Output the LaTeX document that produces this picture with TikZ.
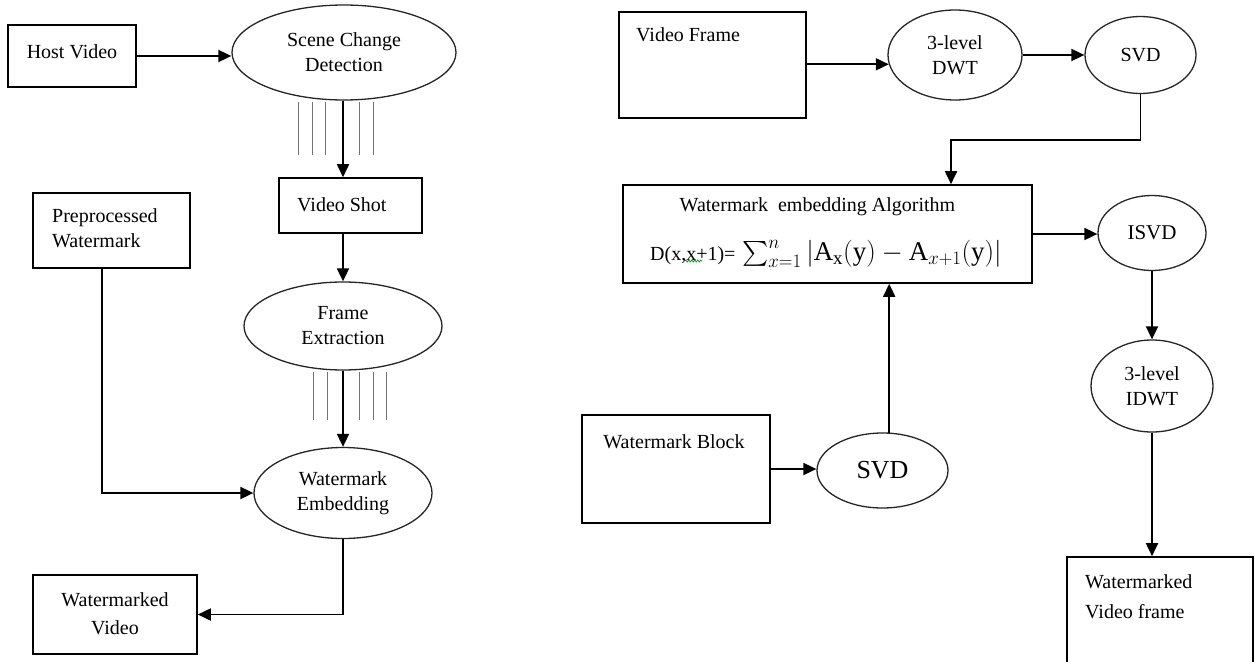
\documentclass[tikz,border=0pt]{standalone}
\usepackage{fix-cm}
\usepackage{amsmath}
\usepackage{fontspec}
\setmainfont{Liberation Serif}
\usetikzlibrary{arrows.meta,shapes.geometric,decorations.pathmorphing,calc}
\begin{document}
\begin{tikzpicture}[x=1pt,y=-1pt,
  box/.style={draw,line width=1.6pt,rectangle,inner sep=0pt},
  ell/.style={draw=black!85,line width=1.3pt,ellipse,inner sep=0pt,align=center,font=\fontsize{20}{25}\selectfont},
  arr/.style={line width=1.8pt,-{Triangle[length=13pt,width=12pt]}},
  tick/.style={draw=black!55,line width=0.9pt},
  txt/.style={inner sep=0pt,font=\fontsize{20}{25}\selectfont,align=left}]
\useasboundingbox (0,0) rectangle (1255,661);
\fill[white] (0,0) rectangle (1255,661);
\clip (0,0) rectangle (1255,661);

% ---------- left flow ----------
\node[box,minimum width=128pt,minimum height=62pt] (hv) at (72,56) {};
\node[txt] (hvt) at (72,52) {Host Video};

\node[ell,minimum width=224pt,minimum height=95pt] (scd) at (344,52.5) {Scene Change\\Detection};

\node[box,minimum width=143pt,minimum height=55pt] (vs) at (350.5,205.5) {};
\node[txt,anchor=west] (vst) at (297,205) {Video Shot};

\node[box,minimum width=157pt,minimum height=75pt] (pw) at (111.5,230.5) {};
\node[txt,anchor=west] (pwt) at (52,228.5) {Preprocessed\\Watermark};

\node[ell,minimum width=198pt,minimum height=88pt] (fe) at (343,326) {Frame\\Extraction};
\node[ell,minimum width=178pt,minimum height=91pt] (we) at (343,493) {Watermark\\Embedding};

\node[box,minimum width=164pt,minimum height=79pt] (wv) at (115,614.5) {};
\node[txt,align=center,font=\fontsize{20}{28}\selectfont] (wvt) at (115,614) {Watermarked\\Video};

\foreach \x in {298,312,325,359,373} \draw[tick] (\x,102) -- (\x,155);
\foreach \x in {313,327,359,373,386} \draw[tick] (\x,372) -- (\x,420);

\draw[arr] (hv.east) -- (hv.east -| scd.west);
\draw[arr] (fe.north |- scd.south) -- (fe.north |- vs.north);
\draw[arr] (vs.south -| fe.north) -- (fe.north);
\draw[arr] (fe.south) -- (we.north);
\draw[arr] ($(pw.south west)!0.44!(pw.south east)$) |- (we.west);
\draw[arr] (we.south) |- (wv.east);

% ---------- right flow ----------
\node[box,minimum width=187pt,minimum height=106pt] (vf) at (712.5,65) {};
\node[txt,anchor=west] (vft) at (636,35) {Video Frame};

\node[ell,minimum width=134pt,minimum height=90pt] (dwt) at (955,55) {3-level\\DWT};
\node[ell,minimum width=111pt,minimum height=77pt] (svda) at (1140.5,55) {SVD};

\node[box,minimum width=409pt,minimum height=98pt] (wea) at (827.5,234) {};
\node[txt] (weat) at (817.5,207) {Watermark\ \ embedding\ Algorithm};
\node[txt,anchor=west] (weaf) at (650,254) {D(x,x+1)=\,\,{\fontsize{27}{30}\selectfont$\sum_{x=1}^{n}\,\lvert\mathrm{A_x(y)}-\mathrm{A}_{x+1}\mathrm{(y)}\rvert$}};
\draw[green!60!black,line width=0.7pt,decorate,decoration={zigzag,segment length=3pt,amplitude=1pt}] (685,261) -- (702,261);

\node[ell,minimum width=108pt,minimum height=75pt,font=\fontsize{21}{25}\selectfont] (isvd) at (1152,233) {ISVD};
\node[ell,minimum width=122pt,minimum height=92pt] (idwt) at (1152,386) {3-level\\IDWT};

\node[box,minimum width=186pt,minimum height=163pt] (wvf) at (1160,638.5) {};
\node[txt,anchor=west,font=\fontsize{20}{30}\selectfont] (wvft) at (1085,597) {Watermarked\\Video frame};

\node[box,minimum width=188pt,minimum height=108pt] (wb) at (676,469) {};
\node[txt] (wbt) at (674,442) {Watermark Block};
\node[ell,minimum width=131pt,minimum height=75pt,font=\fontsize{26}{30}\selectfont] (svdb) at (882.5,470.5) {SVD};

\coordinate (bend) at (951,140);
\draw[arr] (vf.east |- dwt.188) -- (dwt.188);
\draw[arr] (dwt.east) -- (svda.west);
\draw[arr] (svda.south) |- (bend) -- (bend |- wea.north);
\draw[arr] (wea.east) -- (wea.east -| isvd.west);
\draw[arr] (isvd.south) -- (idwt.north);
\draw[arr] (idwt.south) -- (idwt.south |- wvf.north);
\draw[arr] (wb.east) -- (wb.east -| svdb.west);
\draw[arr] (svdb.80) -- (svdb.80 |- wea.south);
\end{tikzpicture}
\end{document}
